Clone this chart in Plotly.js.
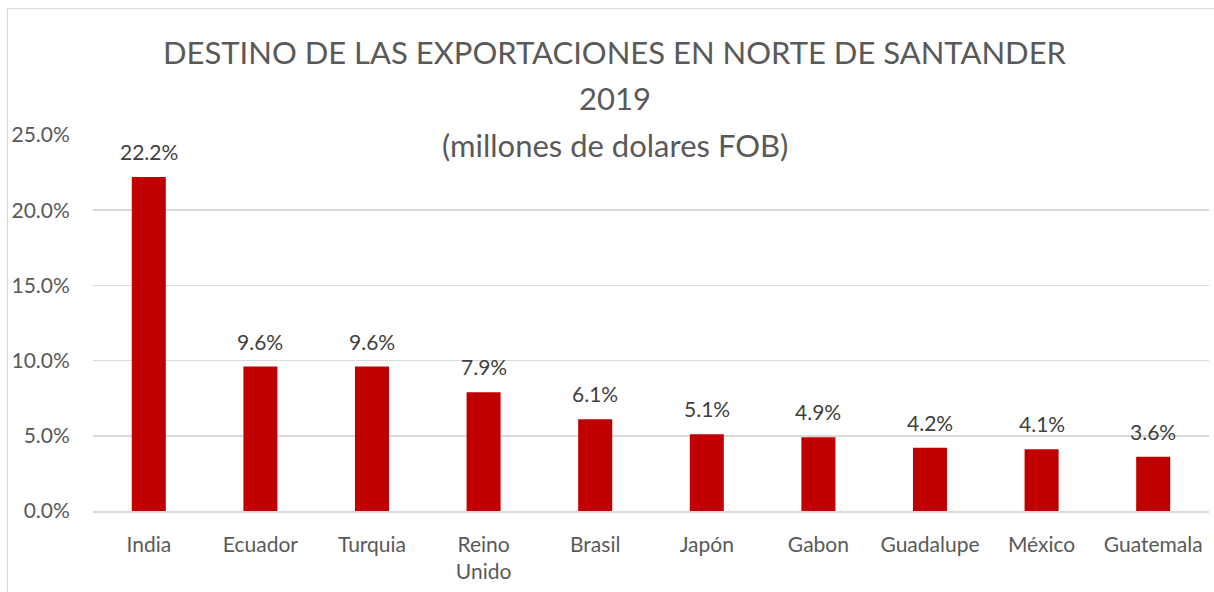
<!DOCTYPE html>
<html><head><meta charset="utf-8">
<script src="https://cdn.plot.ly/plotly-3.0.1.min.js"></script>
<style>
html,body{margin:0;padding:0;background:#fff;}
#frame{position:absolute;left:7px;top:8px;width:1300px;height:700px;border-left:1.5px solid #d9d9d9;border-top:1.5px solid #d9d9d9;}
#chart{position:absolute;left:0;top:0;width:1214px;height:592px;}
</style></head>
<body>
<div id="frame"></div>
<div id="chart"></div>
<script>
const categories = ["India","Ecuador","Turquia","Reino<br>Unido","Brasil","Japón","Gabon","Guadalupe","México","Guatemala"];
const shares = [0.222,0.096,0.096,0.079,0.061,0.051,0.049,0.042,0.041,0.036];
const labels = ["22.2%","9.6%","9.6%","7.9%","6.1%","5.1%","4.9%","4.2%","4.1%","3.6%"];
const yTicks = [0,0.05,0.10,0.15,0.20,0.25];
const yTickText = ["0.0%","5.0%","10.0%","15.0%","20.0%","25.0%"];
const titleLines = ["DESTINO DE LAS EXPORTACIONES EN NORTE DE SANTANDER","2019","(millones de dolares FOB)"];

const font = "Lato, 'Open Sans', sans-serif";
const grey = "#595959";

// plot area in pixels: top 135, bottom 511
const plotTop = 135, plotBottom = 511, plotH = plotBottom - plotTop;
const titleCenters = [51.5, 98, 145];

const annotations = [];
titleLines.forEach((t, i) => {
  annotations.push({
    text: t, xref: "paper", yref: "paper",
    x: (615 - 93) / 1116, y: (plotBottom - titleCenters[i]) / plotH,
    xanchor: "center", yanchor: "middle", showarrow: false,
    font: {family: font, size: 31, color: grey}
  });
});
categories.forEach((c, i) => {
  annotations.push({
    text: labels[i], x: c, y: shares[i], xref: "x", yref: "y",
    xanchor: "center", yanchor: "middle", yshift: 25.5, showarrow: false,
    font: {family: font, size: 21, color: "#404040"}
  });
});

Plotly.newPlot("chart", [{
  type: "bar",
  x: categories,
  y: shares,
  marker: {color: "#C00000"},
  hoverinfo: "none"
}], {
  width: 1214, height: 592,
  paper_bgcolor: "rgba(0,0,0,0)",
  plot_bgcolor: "rgba(0,0,0,0)",
  margin: {l: 93, r: 5, t: 135, b: 81},
  bargap: 0.695,
  showlegend: false,
  annotations: annotations,
  xaxis: {
    tickfont: {family: font, size: 21, color: grey},
    ticks: "outside", ticklen: 14, tickcolor: "rgba(0,0,0,0)",
    showline: true, linecolor: "#d9d9d9", linewidth: 1.5,
    showgrid: false, fixedrange: true
  },
  yaxis: {
    range: [0, 0.25],
    tickvals: yTicks, ticktext: yTickText,
    tickfont: {family: font, size: 21, color: grey},
    ticks: "outside", ticklen: 18, tickcolor: "rgba(0,0,0,0)",
    showgrid: true, gridcolor: "#d9d9d9", gridwidth: 1.5,
    zeroline: false, showline: false, fixedrange: true
  }
}, {staticPlot: true});
</script>
</body></html>
